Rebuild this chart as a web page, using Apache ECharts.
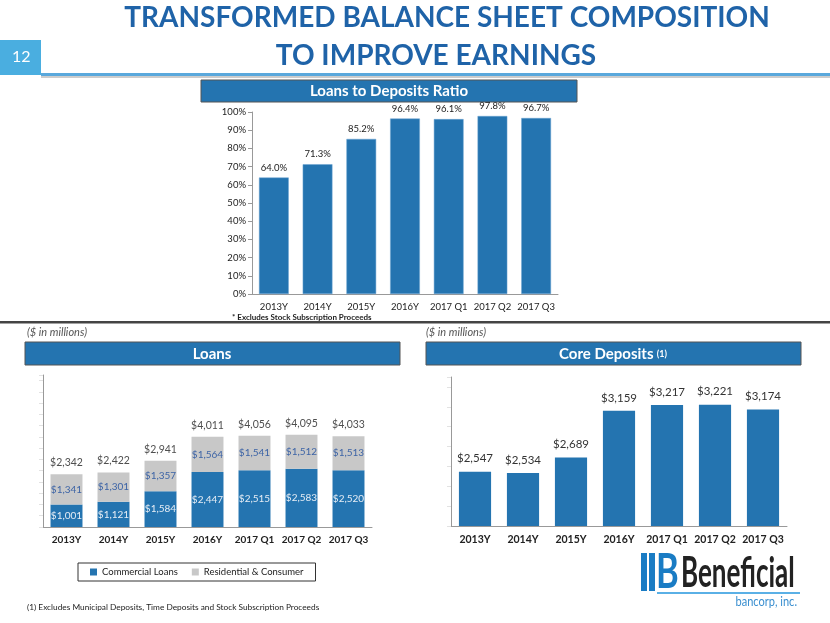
<!DOCTYPE html>
<html><head><meta charset="utf-8">
<script src="https://cdn.jsdelivr.net/npm/echarts@6/dist/echarts.min.js"></script>
<style>html,body{margin:0;padding:0;background:#fff}#c{width:830px;height:623px}</style>
</head><body><div id="c"></div>
<script>
const categories = ['2013Y','2014Y','2015Y','2016Y','2017 Q1','2017 Q2','2017 Q3'];
const ratioValues = [64.0, 71.3, 85.2, 96.4, 96.1, 97.8, 96.7];
const ratioTicks = [0,10,20,30,40,50,60,70,80,90,100];
const commercialLoans = [1001, 1121, 1584, 2447, 2515, 2583, 2520];
const residentialConsumer = [1341, 1301, 1357, 1564, 1541, 1512, 1513];
const loanTotals = [2342, 2422, 2941, 4011, 4056, 4095, 4033];
const coreDeposits = [2547, 2534, 2689, 3159, 3217, 3221, 3174];

const BLUE = '#2474b0', GREY = '#c8c8c8', FONT = 'Lato, "Liberation Sans", sans-serif';
const money = v => '$' + Number(v).toLocaleString('en-US');

const chart = echarts.init(document.getElementById('c'), null, {renderer:'canvas'});

const catAxis = (gi, size, color, weight) => ({
  type:'category', gridIndex:gi, data:categories,
  axisLine:{lineStyle:{color:'#999'}}, axisTick:{lineStyle:{color:'#999'}, length:4},
  axisLabel:{interval:0, fontFamily:FONT, fontSize:size, color:color, fontWeight:weight, margin:8}
});

chart.setOption({
  animation:false,
  textStyle:{fontFamily:FONT},
  grid:[
    {left:252, right:272, top:112, bottom:329},
    {left:43, right:458, top:375, bottom:96},
    {left:451, right:43, top:377, bottom:97}
  ],
  xAxis:[catAxis(0,9.5,'#222','normal'), catAxis(1,10,'#222','bold'), catAxis(2,10.5,'#222','bold')],
  yAxis:[
    {type:'value', gridIndex:0, min:ratioTicks[0], max:ratioTicks[ratioTicks.length-1], interval:ratioTicks[1]-ratioTicks[0],
     axisLine:{show:true, lineStyle:{color:'#999'}}, axisTick:{show:true, length:4, lineStyle:{color:'#999'}}, splitLine:{show:false},
     axisLabel:{formatter:'{value}%', fontSize:9.5, color:'#222', fontFamily:FONT, margin:6}},
    {type:'value', gridIndex:1, min:0, max:6750, interval:500,
     axisLine:{show:true, lineStyle:{color:'#999'}}, axisTick:{show:true, length:4, lineStyle:{color:'#e2e2e2'}}, splitLine:{show:false},
     axisLabel:{show:false}},
    {type:'value', gridIndex:2, min:2000, max:3500, interval:200,
     axisLine:{show:true, lineStyle:{color:'#999'}}, axisTick:{show:true, length:4, lineStyle:{color:'#e2e2e2'}}, splitLine:{show:false},
     axisLabel:{show:false}}
  ],
  legend:{
    left:78, top:563, itemWidth:7, itemHeight:7, itemGap:14,
    padding:[4,12,4,12], borderColor:'#333', borderWidth:1, icon:'rect',
    textStyle:{fontSize:9.5, color:'#222', fontFamily:FONT},
    data:['Commercial Loans','Residential & Consumer']
  },
  series:[
    {type:'bar', xAxisIndex:0, yAxisIndex:0, data:ratioValues, barWidth:'68%',
     itemStyle:{color:BLUE, borderColor:'#6aa3d0', borderWidth:0.5},
     label:{show:true, position:'top', distance:5, fontSize:9.5, color:'#222', formatter:p=>p.value.toFixed(1)+'%'}},
    {name:'Commercial Loans', type:'bar', stack:'loans', xAxisIndex:1, yAxisIndex:1, data:commercialLoans, barWidth:'68%',
     itemStyle:{color:BLUE},
     label:{show:true, position:'inside', fontSize:10, color:'#e6edf5', formatter:p=>money(p.value)}},
    {name:'Residential & Consumer', type:'bar', stack:'loans', xAxisIndex:1, yAxisIndex:1, data:residentialConsumer, barWidth:'68%',
     itemStyle:{color:GREY},
     label:{show:true, position:'inside', fontSize:10, color:'#3d64a6', formatter:p=>money(p.value)}},
    {type:'scatter', xAxisIndex:1, yAxisIndex:1, data:loanTotals, symbolSize:0, silent:true,
     label:{show:true, position:'top', distance:6, fontSize:10.5, color:'#222', formatter:p=>money(p.value)}},
    {type:'bar', xAxisIndex:2, yAxisIndex:2, data:coreDeposits, barWidth:'67%',
     itemStyle:{color:BLUE},
     label:{show:true, position:'top', distance:7, fontSize:11.5, color:'#333', formatter:p=>money(p.value)}}
  ],
  graphic:[
    {type:'text', x:447, y:4, style:{text:'TRANSFORMED BALANCE SHEET COMPOSITION', font:'bold 28px '+FONT, fill:'#1f63a8', textAlign:'center'}},
    {type:'text', x:436, y:42, style:{text:'TO IMPROVE EARNINGS', font:'bold 28px '+FONT, fill:'#1f63a8', textAlign:'center'}},
    {type:'rect', shape:{x:0, y:40, width:41, height:35}, style:{fill:'#4aaee0'}},
    {type:'text', left:12, top:49, style:{text:'12', font:'16px '+FONT, fill:'#fff'}},
    {type:'rect', shape:{x:41, y:76, width:789, height:2}, style:{fill:'#ccc'}},
    {type:'rect', shape:{x:41, y:73, width:789, height:3}, style:{fill:'#5aa8dc'}},
    {type:'rect', shape:{x:201, y:80, width:376, height:22}, style:{fill:BLUE, stroke:'#555', lineWidth:1}},
    {type:'text', x:389, y:91, style:{text:'Loans to Deposits Ratio', font:'bold 15px '+FONT, fill:'#fff', textAlign:'center', textVerticalAlign:'middle'}},
    {type:'text', left:232, top:313, style:{text:'* Excludes Stock Subscription Proceeds', font:'bold 8px '+FONT, fill:'#222'}},
    {type:'rect', shape:{x:0, y:321, width:830, height:2.5}, style:{fill:'#444'}},
    {type:'text', left:27, top:327, style:{text:'($ in millions)', font:'italic 11px '+FONT, fill:'#555'}},
    {type:'text', left:426, top:327, style:{text:'($ in millions)', font:'italic 11px '+FONT, fill:'#555'}},
    {type:'rect', shape:{x:25, y:342, width:375, height:23}, style:{fill:BLUE, stroke:'#555', lineWidth:1}},
    {type:'text', x:212, y:354, style:{text:'Loans', font:'bold 15px '+FONT, fill:'#fff', textAlign:'center', textVerticalAlign:'middle'}},
    {type:'rect', shape:{x:426, y:342, width:375, height:23}, style:{fill:BLUE, stroke:'#555', lineWidth:1}},
    {type:'text', x:613, y:354, style:{rich:{a:{font:'bold 15px '+FONT, fill:'#fff'}, b:{font:'bold 9px '+FONT, fill:'#fff'}}, text:'{a|Core Deposits} {b|(1)}', textAlign:'center', textVerticalAlign:'middle'}},
    {type:'text', left:27, top:603, style:{text:'(1) Excludes Municipal Deposits, Time Deposits and Stock Subscription Proceeds', font:'8.3px '+FONT, fill:'#222'}},
    {type:'rect', shape:{x:641, y:553, width:6, height:38}, style:{fill:'#1a7cc4'}},
    {type:'rect', shape:{x:649, y:553, width:6, height:38}, style:{fill:'#1a7cc4'}},
    {type:'text', x:656, y:573, scaleX:0.72, style:{text:'B', font:'bold 48px '+FONT, fill:'#1a7cc4', textVerticalAlign:'middle'}},
    {type:'text', x:681, y:573, scaleX:0.62, style:{text:'Beneficial', font:'bold 42px '+FONT, fill:'#222', textVerticalAlign:'middle'}},
    {type:'rect', shape:{x:657, y:592, width:143, height:2}, style:{fill:'#5ab0e6'}},
    {type:'text', x:797, y:602, scaleX:0.85, style:{text:'bancorp, inc.', font:'13px '+FONT, fill:'#3a8fd0', textAlign:'right', textVerticalAlign:'middle'}}
  ]
});
</script></body></html>
